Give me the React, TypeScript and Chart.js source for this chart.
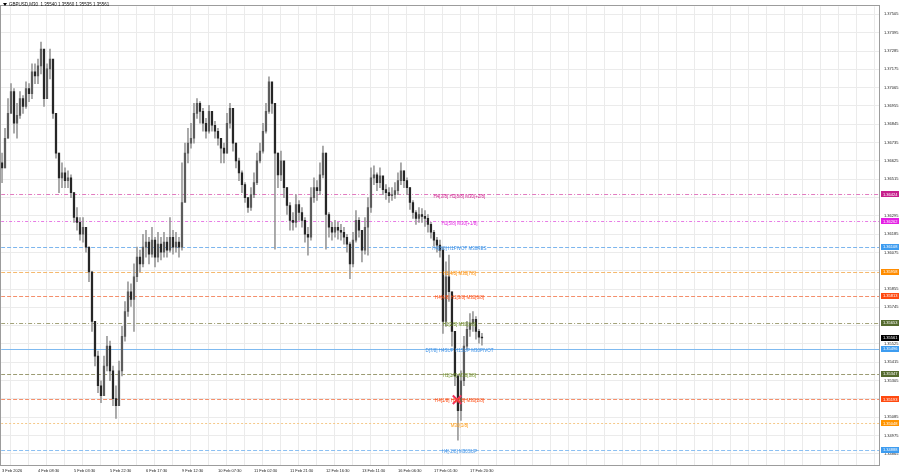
import React, { useEffect, useRef } from 'react';
import { Chart, registerables } from 'chart.js';

Chart.register(...registerables);

// ---- data (M30 candles, aggregated) ----
const firstOpen = 1.36613;
const closes = [
  1.36583, 1.36761, 1.36910, 1.37041, 1.36851, 1.36898, 1.36999, 1.36952, 1.37059, 1.37029,
  1.37160, 1.37136, 1.37196, 1.37297, 1.36999, 1.37178, 1.37237, 1.36910, 1.36672, 1.36523,
  1.36553, 1.36506, 1.36523, 1.36434, 1.36285, 1.36256, 1.36184, 1.36226, 1.36107, 1.35958,
  1.35661, 1.35452, 1.35274, 1.35214, 1.35393, 1.35512, 1.35363, 1.35197, 1.35155, 1.35363,
  1.35571, 1.35720, 1.35839, 1.35792, 1.35929, 1.36047, 1.36006, 1.36107, 1.36137, 1.36065,
  1.36149, 1.36047, 1.36125, 1.36077, 1.36137, 1.36089, 1.36166, 1.36107, 1.36137, 1.36107,
  1.36375, 1.36672, 1.36732, 1.36761, 1.36910, 1.36970, 1.36922, 1.36851, 1.36803, 1.36922,
  1.36839, 1.36803, 1.36761, 1.36702, 1.36672, 1.36851, 1.36940, 1.36732, 1.36625, 1.36553,
  1.36482, 1.36404, 1.36345, 1.36422, 1.36494, 1.36625, 1.36684, 1.36803, 1.36922, 1.37100,
  1.36970, 1.36672, 1.36541, 1.36625, 1.36464, 1.36357, 1.36268, 1.36256, 1.36363, 1.36315,
  1.36268, 1.36184, 1.36166, 1.36404, 1.36464, 1.36446, 1.36541, 1.36672, 1.36303, 1.36226,
  1.36196, 1.36226, 1.36208, 1.36196, 1.36166, 1.36125, 1.36006, 1.36149, 1.36268, 1.36208,
  1.36089, 1.36226, 1.36345, 1.36523, 1.36541, 1.36494, 1.36535, 1.36452, 1.36434, 1.36416,
  1.36422, 1.36446, 1.36506, 1.36565, 1.36506, 1.36464, 1.36375, 1.36315, 1.36280, 1.36303,
  1.36292, 1.36280, 1.36244, 1.36196, 1.36149, 1.36119, 1.36089, 1.35661, 1.35929, 1.35839,
  1.35601, 1.35333, 1.35125, 1.35304, 1.35512, 1.35613, 1.35649, 1.35673, 1.35601, 1.35566, 1.35561,
];
const highs = [
  1.36672, 1.36821, 1.36999, 1.37089, 1.37059, 1.36970, 1.37041, 1.37017, 1.37100, 1.37089,
  1.37208, 1.37208, 1.37237, 1.37338, 1.37237, 1.37208, 1.37297, 1.37208, 1.36910, 1.36672,
  1.36613, 1.36583, 1.36565, 1.36541, 1.36434, 1.36345, 1.36285, 1.36285, 1.36226, 1.36107,
  1.35958, 1.35661, 1.35482, 1.35304, 1.35452, 1.35571, 1.35542, 1.35393, 1.35274, 1.35423,
  1.35631, 1.35780, 1.35899, 1.35887, 1.36006, 1.36107, 1.36089, 1.36184, 1.36208, 1.36166,
  1.36226, 1.36166, 1.36196, 1.36166, 1.36196, 1.36166, 1.36285, 1.36208, 1.36196, 1.36166,
  1.36613, 1.36732, 1.36821, 1.36851, 1.36970, 1.36999, 1.36981, 1.36940, 1.36880, 1.36958,
  1.36922, 1.36863, 1.36821, 1.36761, 1.36732, 1.36910, 1.36970, 1.36940, 1.36732, 1.36642,
  1.36565, 1.36494, 1.36404, 1.36464, 1.36553, 1.36672, 1.36732, 1.36851, 1.36970, 1.37130,
  1.37059, 1.36970, 1.36672, 1.36684, 1.36613, 1.36464, 1.36375, 1.36315, 1.36422, 1.36387,
  1.36345, 1.36285, 1.36226, 1.36464, 1.36523, 1.36506, 1.36613, 1.36714, 1.36672, 1.36315,
  1.36256, 1.36268, 1.36256, 1.36244, 1.36226, 1.36184, 1.36137, 1.36196, 1.36327, 1.36285,
  1.36208, 1.36285, 1.36404, 1.36583, 1.36595, 1.36553, 1.36583, 1.36523, 1.36482, 1.36464,
  1.36464, 1.36494, 1.36553, 1.36613, 1.36565, 1.36523, 1.36464, 1.36387, 1.36327, 1.36345,
  1.36339, 1.36327, 1.36303, 1.36256, 1.36208, 1.36166, 1.36149, 1.36107, 1.36018, 1.36059,
  1.35839, 1.35601, 1.35333, 1.35363, 1.35571, 1.35661, 1.35708, 1.35720, 1.35690, 1.35613, 1.35589,
];
const lows = [
  1.36494, 1.36583, 1.36761, 1.36970, 1.36791, 1.36761, 1.36880, 1.36910, 1.36940, 1.36981,
  1.36999, 1.37089, 1.37089, 1.37148, 1.36952, 1.36999, 1.37118, 1.36880, 1.36642, 1.36434,
  1.36464, 1.36464, 1.36464, 1.36404, 1.36256, 1.36208, 1.36149, 1.36137, 1.36077, 1.35899,
  1.35601, 1.35393, 1.35232, 1.35173, 1.35214, 1.35363, 1.35304, 1.35155, 1.35078, 1.35155,
  1.35333, 1.35542, 1.35690, 1.35750, 1.35601, 1.35899, 1.35958, 1.35988, 1.36047, 1.36006,
  1.36047, 1.35988, 1.36018, 1.36030, 1.36047, 1.36047, 1.36077, 1.36065, 1.36077, 1.36047,
  1.36089, 1.36404, 1.36613, 1.36702, 1.36732, 1.36880, 1.36851, 1.36803, 1.36761, 1.36791,
  1.36803, 1.36761, 1.36720, 1.36613, 1.36613, 1.36672, 1.36821, 1.36684, 1.36583, 1.36506,
  1.36434, 1.36375, 1.36315, 1.36327, 1.36404, 1.36482, 1.36613, 1.36672, 1.36791, 1.36910,
  1.36910, 1.36095, 1.36464, 1.36506, 1.36404, 1.36303, 1.36208, 1.36208, 1.36226, 1.36268,
  1.36226, 1.36137, 1.36059, 1.36149, 1.36375, 1.36387, 1.36422, 1.36523, 1.36095, 1.36166,
  1.36149, 1.36166, 1.36155, 1.36149, 1.36125, 1.36077, 1.35917, 1.35988, 1.36137, 1.36166,
  1.36018, 1.36065, 1.36059, 1.36315, 1.36482, 1.36446, 1.36464, 1.36422, 1.36393, 1.36375,
  1.36387, 1.36399, 1.36422, 1.36482, 1.36464, 1.36422, 1.36333, 1.36280, 1.36244, 1.36256,
  1.36256, 1.36232, 1.36196, 1.36160, 1.36113, 1.36077, 1.36047, 1.35589, 1.35631, 1.35780,
  1.35512, 1.35274, 1.34947, 1.35066, 1.35274, 1.35494, 1.35571, 1.35601, 1.35554, 1.35530, 1.35518,
];

const xTickLabels = [
  '3 Feb 2026', '4 Feb 08:30', '5 Feb 03:30', '5 Feb 22:30', '6 Feb 17:30', '9 Feb 12:30',
  '10 Feb 07:30', '11 Feb 02:30', '11 Feb 21:30', '12 Feb 16:30', '13 Feb 11:30',
  '16 Feb 06:30', '17 Feb 01:30', '17 Feb 20:30',
];

const yTickValues = [
  1.37505, 1.37395, 1.37285, 1.37175, 1.37065, 1.36955, 1.36845, 1.36735, 1.36625, 1.36515,
  1.36405, 1.36295, 1.36185, 1.36075, 1.35965, 1.35855, 1.35745, 1.35635, 1.35525, 1.35415,
  1.35305, 1.35195, 1.35085, 1.34975, 1.34865,
];
const yTickHidden = [1.36405, 1.35965, 1.35635, 1.35195];

const levelValues = [1.36424, 1.36262, 1.36108, 1.35958, 1.35813, 1.35653, 1.35496, 1.35347, 1.35193, 1.35048, 1.34888];
const levelTexts = [
  'H4[3/8] H1[8/8] M30[+2/8]',
  'H1[5/8] M30[+1/8]',
  'H4[8/8] H1PIVOT M30RES',
  'H1[4/8] M30[7/8]',
  'H4[4/8] H1[3/8] M30[6/8]',
  'H1[2/8] M30[5/8]',
  'D[7/8] H4SUP H1SUP M30PIVOT',
  'H1[1/8] M30[3/8]',
  'H4[1/8] H1[0/8] M30[2/8]',
  'M30[1/8]',
  'H4[-2/8] M30SUP',
];

const currentPrice = 1.35561;
const headerText = 'GBPUSD,M30  1.35540 1.35560 1.35535 1.35561';
const markerX = 151.7;
const markerY = 1.35190;

// ---- styles ----
const levelLineColors = ['#e27cc0', '#e77ce5', '#7db6ee', '#f5b96e', '#f48f6c', '#a3a37a', '#7fbaf0', '#9c9c74', '#f48f6c', '#f5c98a', '#8cc0f2'];
const levelTextColors = ['#d01f8e', '#e01fe0', '#3a8fe6', '#ff8c00', '#ff4a10', '#6b8e23', '#3a8fe6', '#6b8e23', '#ff4a10', '#ff9a10', '#3a8fe6'];
const levelBoxColors = ['#c6208c', '#e41fe4', '#3d9cf0', '#ff8c00', '#ff4a10', '#556b2f', '#3d9cf0', '#556b2f', '#ff4a10', '#ff9400', '#3d9cf0'];
const levelDashes = [[4, 2, 1, 2], [3, 2, 1, 2], [4, 2], [4, 2], [4, 2], [4, 2, 1, 2], [], [4, 2], [4, 2], [2, 2], [4, 2]];

const FONT = '"Liberation Sans", Arial, sans-serif';

const overlayPlugin = {
  id: 'mtOverlay',
  beforeDatasetsDraw(chart: any) {
    const { ctx, chartArea: a, scales } = chart;
    const y = scales.y;
    ctx.save();
    ctx.beginPath();
    ctx.rect(a.left, a.top, a.right - a.left, a.bottom - a.top);
    ctx.clip();
    levelValues.forEach((v, k) => {
      const py = Math.round(y.getPixelForValue(v)) + 0.5;
      ctx.strokeStyle = levelLineColors[k];
      ctx.lineWidth = 1;
      ctx.setLineDash(levelDashes[k]);
      ctx.beginPath();
      ctx.moveTo(a.left, py);
      ctx.lineTo(a.right, py);
      ctx.stroke();
    });
    ctx.restore();
  },
  afterDatasetsDraw(chart: any) {
    const { ctx, chartArea: a, scales } = chart;
    const x = scales.x;
    const y = scales.y;
    ctx.save();
    // level texts
    ctx.font = `4.5px ${FONT}`;
    ctx.textAlign = 'center';
    ctx.textBaseline = 'middle';
    const tx = x.getPixelForValue(152.5);
    levelValues.forEach((v, k) => {
      ctx.fillStyle = levelTextColors[k];
      ctx.fillText(levelTexts[k], tx, y.getPixelForValue(v) + 2);
    });
    // frame
    ctx.strokeStyle = '#9c9c9c';
    ctx.lineWidth = 1;
    ctx.setLineDash([]);
    ctx.strokeRect(Math.round(a.left) - 0.5, Math.round(a.top) - 0.5, Math.round(a.right - a.left), Math.round(a.bottom - a.top));
    // right boxes
    ctx.font = `4px ${FONT}`;
    ctx.textAlign = 'left';
    const drawBox = (v: number, color: string) => {
      const py = y.getPixelForValue(v);
      ctx.fillStyle = color;
      ctx.fillRect(a.right + 1, Math.round(py) - 3, 18, 6);
      ctx.fillStyle = '#ffffff';
      ctx.fillText(v.toFixed(5), a.right + 3, py + 0.3);
    };
    levelValues.forEach((v, k) => drawBox(v, levelBoxColors[k]));
    drawBox(currentPrice, '#000000');
    // header
    ctx.fillStyle = '#000000';
    ctx.beginPath();
    ctx.moveTo(3, 3);
    ctx.lineTo(7, 3);
    ctx.lineTo(5, 6);
    ctx.closePath();
    ctx.fill();
    ctx.font = `4.5px ${FONT}`;
    ctx.textAlign = 'left';
    ctx.fillStyle = '#111111';
    ctx.fillText(headerText, 9, 4.8);
    ctx.restore();
  },
};

export default function App() {
  const ref = useRef<HTMLCanvasElement | null>(null);

  useEffect(() => {
    document.body.style.margin = '0';
    const canvas = ref.current;
    if (!canvas) return;
    const wickData = closes.map((c, i) => ({ x: i, y: [lows[i], highs[i]] }));
    const bodyData = closes.map((c, i) => ({ x: i, y: [i === 0 ? firstOpen : closes[i - 1], c] }));
    const bodyColors = closes.map((c, i) => (c >= (i === 0 ? firstOpen : closes[i - 1]) ? '#5c5c5c' : '#262626'));

    const chart = new Chart(canvas, {
      type: 'bar',
      data: {
        datasets: [
          {
            type: 'bar',
            data: wickData as any,
            backgroundColor: '#9a9a9a',
            barThickness: 1,
            grouped: false,
            order: 2,
          } as any,
          {
            type: 'bar',
            data: bodyData as any,
            backgroundColor: bodyColors,
            barThickness: 1.6,
            minBarLength: 1,
            grouped: false,
            order: 1,
          } as any,
          {
            type: 'scatter',
            data: [{ x: markerX, y: markerY }],
            pointStyle: 'crossRot',
            radius: 6,
            borderColor: '#f2335c',
            backgroundColor: '#f2335c',
            borderWidth: 2,
            order: 0,
          } as any,
        ],
      },
      plugins: [overlayPlugin],
      options: {
        animation: false,
        responsive: false,
        devicePixelRatio: 1,
        events: [],
        layout: { autoPadding: false, padding: { left: 1, top: 1, right: 0, bottom: 0 } },
        plugins: { legend: { display: false }, tooltip: { enabled: false } },
        scales: {
          x: {
            type: 'linear',
            min: -0.3,
            max: 292.7,
            offset: false,
            afterBuildTicks: (scale: any) => {
              const t = [];
              for (let v = 0; v <= 288; v += 6) t.push({ value: v });
              scale.ticks = t;
            },
            afterFit: (scale: any) => { scale.height = 8; },
            grid: { color: '#ebebeb', drawTicks: false, lineWidth: 1 },
            border: { display: false },
            ticks: {
              autoSkip: false,
              maxRotation: 0,
              align: 'start',
              padding: 2,
              color: '#222222',
              font: { size: 4, family: FONT },
              callback: (v: any) => {
                const n = Number(v);
                if (n % 12 !== 0) return '';
                return xTickLabels[n / 12] ?? '';
              },
            },
          },
          y: {
            type: 'linear',
            position: 'right',
            min: 1.34792,
            max: 1.37553,
            afterBuildTicks: (scale: any) => {
              scale.ticks = yTickValues.map((v) => ({ value: v }));
            },
            afterFit: (scale: any) => { scale.width = 20; },
            grid: { color: '#ebebeb', drawTicks: false, lineWidth: 1 },
            border: { display: false },
            ticks: {
              autoSkip: false,
              padding: 4,
              color: '#222222',
              font: { size: 4, family: FONT },
              callback: (v: any) => {
                const n = Number(v);
                if (yTickHidden.some((h) => Math.abs(h - n) < 1e-7)) return '';
                return n.toFixed(5);
              },
            },
          },
        },
      } as any,
    });
    return () => chart.destroy();
  }, []);

  return (
    <div style={{ position: 'fixed', left: 0, top: 0, width: 900, height: 474, background: '#ffffff' }}>
      <canvas ref={ref} width={900} height={474} style={{ width: 900, height: 474, display: 'block' }} />
    </div>
  );
}
